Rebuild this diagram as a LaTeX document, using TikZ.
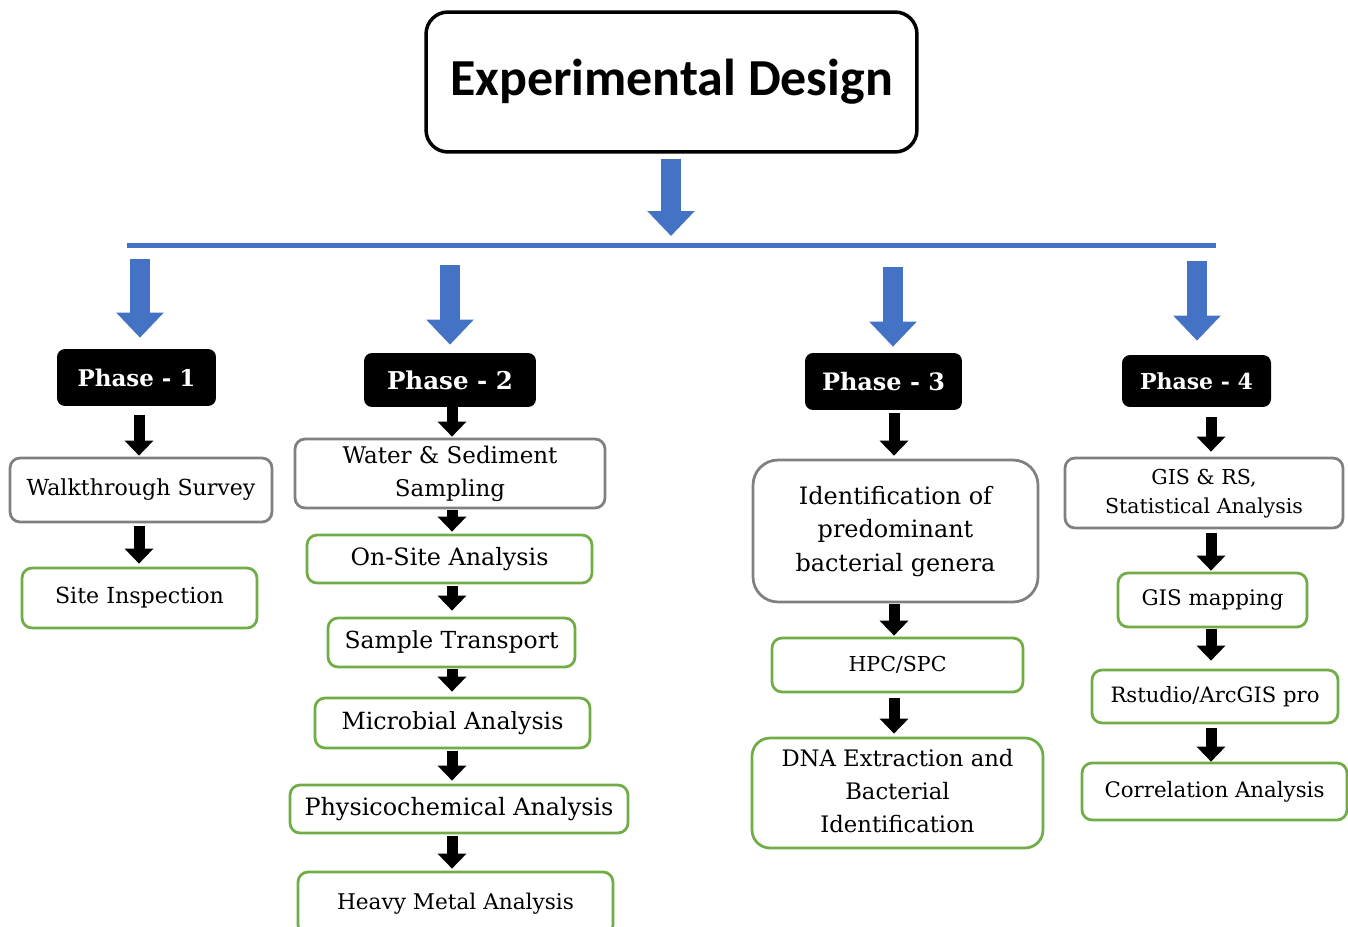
\documentclass[tikz,border=0pt]{standalone}
\usepackage{fontspec}
\setmainfont{DejaVu Serif}
\newfontfamily\titlefont{Carlito}
\usetikzlibrary{arrows.meta}
\definecolor{bblue}{HTML}{4472C4}
\definecolor{bgreen}{HTML}{70AD47}
\definecolor{bgray}{HTML}{808080}
\newcommand\fw[2]{\resizebox{#1}{!}{#2}}
\newcommand\fwl[3][1]{\resizebox{#2}{!}{\def\arraystretch{#1}\begin{tabular}{@{}c@{}}#3\end{tabular}}}
\tikzset{
  box/.style={draw, rounded corners=0.2cm, line width=0.055cm, fill=white, inner sep=0pt, align=center, font=\fontsize{12}{18.7}\selectfont},
  graybox/.style={box, draw=bgray},
  greenbox/.style={box, draw=bgreen},
  phase/.style={fill=black, rounded corners=0.16cm, inner sep=0pt, text=white, font=\bfseries\fontsize{12}{14}\selectfont},
  blk/.style={line width=0.22cm, -{Triangle[width=0.56cm,length=0.3cm]}},
  bluearr/.style={draw=bblue, color=bblue, line width=0.4cm, -{Triangle[width=0.92cm,length=0.5cm]}},
  busline/.style={draw=bblue, line width=0.1cm},
}
\begin{document}
\begin{tikzpicture}[x=0.02cm, y=-0.02cm]
\useasboundingbox (0,0) rectangle (1348,926);
\clip (0,0) rectangle (1348,926);
% title
\node[draw, line width=0.07cm, rounded corners=0.44cm, minimum width=9.82cm, minimum height=2.8cm, inner sep=0pt] (title) at (671.5,82) {\titlefont\bfseries\fw{8.86cm}{Experimental Design}};
% bus
\coordinate (t0) at (671,236);
\coordinate (busL) at (127,245);
\coordinate (busR) at (1216,245);
\coordinate (b1) at (140,259);
\coordinate (b2) at (450,265);
\coordinate (b3) at (893,267);
\coordinate (b4) at (1197,261);
% columns for black arrows
\coordinate (c1) at (139,0);
\coordinate (c2) at (452,0);
\coordinate (c3) at (894,0);
\coordinate (c4) at (1211,0);
% phases
\node[phase, minimum width=3.18cm, minimum height=1.14cm] (p1) at (136.5,377.5) {\fw{2.36cm}{Phase - 1}};
\node[phase, minimum width=3.44cm, minimum height=1.08cm] (p2) at (450,380) {\fw{2.52cm}{Phase - 2}};
\node[phase, minimum width=3.14cm, minimum height=1.14cm] (p3) at (883.5,381.5) {\fw{2.46cm}{Phase - 3}};
\node[phase, minimum width=2.98cm, minimum height=1.04cm] (p4) at (1196.5,381) {\fw{2.26cm}{Phase - 4}};
% column 1
\node[graybox, minimum width=5.24cm, minimum height=1.28cm] (ws) at (141,490) {\fw{4.58cm}{Walkthrough Survey}};
\node[greenbox, minimum width=4.70cm, minimum height=1.20cm] (si) at (139.5,598) {\fw{3.38cm}{Site Inspection}};
% column 2
\node[graybox, minimum width=6.20cm, minimum height=1.38cm] (wss) at (450,473.5) {\fwl[0.92]{4.30cm}{Water \& Sediment\\Sampling}};
\node[greenbox, minimum width=5.70cm, minimum height=0.96cm] (osa) at (449.5,559) {\fw{3.96cm}{On-Site Analysis}};
\node[greenbox, minimum width=4.94cm, minimum height=0.98cm] (st) at (451.5,642.5) {\fw{4.28cm}{Sample Transport}};
\node[greenbox, minimum width=5.50cm, minimum height=1.00cm] (ma) at (452.5,723) {\fw{4.44cm}{Microbial Analysis}};
\node[greenbox, minimum width=6.76cm, minimum height=0.96cm] (pa) at (459,809) {\fw{6.18cm}{Physicochemical Analysis}};
\node[greenbox, minimum width=6.30cm, minimum height=1.26cm] (hma) at (455.5,903.5) {\fw{4.74cm}{Heavy Metal Analysis}};
% column 3
\node[graybox, rounded corners=0.5cm, minimum width=5.70cm, minimum height=2.84cm] (id) at (895.5,531) {\fwl[0.9]{4.00cm}{Identification of\\predominant\\bacterial genera}};
\node[greenbox, minimum width=5.02cm, minimum height=1.08cm] (hpc) at (897.5,665) {\fw{1.96cm}{HPC/SPC}};
\node[greenbox, rounded corners=0.36cm, minimum width=5.82cm, minimum height=2.20cm] (dna) at (897.5,793) {\fwl[0.94]{4.64cm}{DNA Extraction and\\Bacterial\\Identification}};
% column 4
\node[graybox, minimum width=5.56cm, minimum height=1.40cm, font=\fontsize{12}{17}\selectfont] (gis) at (1204,493) {\fwl{3.96cm}{GIS \& RS,\\Statistical Analysis}};
\node[greenbox, minimum width=3.78cm, minimum height=1.08cm] (gm) at (1212.5,600) {\fw{2.84cm}{GIS mapping}};
\node[greenbox, minimum width=4.92cm, minimum height=1.06cm] (rs) at (1215,696.5) {\fw{4.18cm}{Rstudio/ArcGIS pro}};
\node[greenbox, minimum width=5.30cm, minimum height=1.14cm] (ca) at (1214.5,791.5) {\fw{4.40cm}{Correlation Analysis}};
% blue connectors
\draw[bluearr] ([yshift=-0.1cm]title.south -| t0) -- (t0);
\draw[busline] (busL) -- (busR);
\draw[bluearr] (b1) -- ([yshift=0.22cm]p1.north -| b1);
\draw[bluearr] (b2) -- ([yshift=0.16cm]p2.north -| b2);
\draw[bluearr] (b3) -- ([yshift=0.12cm]p3.north -| b3);
\draw[bluearr] (b4) -- ([yshift=0.28cm]p4.north -| b4);
% black connectors
\draw[blk] ([yshift=-0.18cm]p1.south -| c1) -- ([yshift=0.02cm]ws.north -| c1);
\draw[blk] ([yshift=-0.06cm]ws.south -| c1) -- ([yshift=0.06cm]si.north -| c1);
\draw[blk] (p2.south -| c2) -- ([yshift=0.02cm]wss.north -| c2);
\draw[blk] ([yshift=-0.02cm]wss.south -| c2) -- ([yshift=0.04cm]osa.north -| c2);
\draw[blk] ([yshift=-0.04cm]osa.south -| c2) -- ([yshift=0.12cm]st.north -| c2);
\draw[blk] ([yshift=-0.02cm]st.south -| c2) -- ([yshift=0.10cm]ma.north -| c2);
\draw[blk] ([yshift=-0.04cm]ma.south -| c2) -- ([yshift=0.06cm]pa.north -| c2);
\draw[blk] ([yshift=-0.04cm]pa.south -| c2) -- ([yshift=0.04cm]hma.north -| c2);
\draw[blk] ([yshift=-0.06cm]p3.south -| c3) -- ([yshift=0.06cm]id.north -| c3);
\draw[blk] ([yshift=-0.02cm]id.south -| c3) -- ([yshift=0.02cm]hpc.north -| c3);
\draw[blk] ([yshift=-0.10cm]hpc.south -| c3) -- ([yshift=0.06cm]dna.north -| c3);
\draw[blk] ([yshift=-0.20cm]p4.south -| c4) -- ([yshift=0.10cm]gis.north -| c4);
\draw[blk] ([yshift=-0.08cm]gis.south -| c4) -- ([yshift=0.02cm]gm.north -| c4);
\draw[blk] ([yshift=-0.02cm]gm.south -| c4) -- ([yshift=0.16cm]rs.north -| c4);
\draw[blk] ([yshift=-0.08cm]rs.south -| c4) -- (ca.north -| c4);
\end{tikzpicture}
\end{document}
